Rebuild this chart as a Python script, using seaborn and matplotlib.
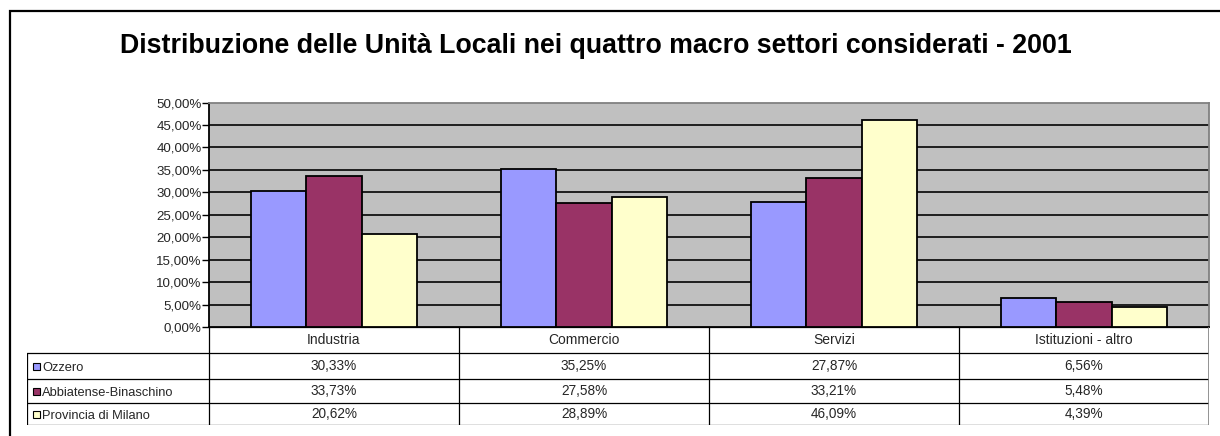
import matplotlib
matplotlib.use("Agg")
import matplotlib.pyplot as plt
from matplotlib.patches import Rectangle
from matplotlib.lines import Line2D
import pandas as pd
import seaborn as sns

# Data
settori = ["Industria", "Commercio", "Servizi", "Istituzioni - altro"]
aree = ["Ozzero", "Abbiatense-Binaschino", "Provincia di Milano"]
ozzero = [30.33, 35.25, 27.87, 6.56]
abbiatense = [33.73, 27.58, 33.21, 5.48]
provincia = [20.62, 28.89, 46.09, 4.39]
colori = ["#9999FF", "#993366", "#FFFFCC"]
y_ticks = [0, 5, 10, 15, 20, 25, 30, 35, 40, 45, 50]
titolo = "Distribuzione delle Unità Locali nei quattro macro settori considerati - 2001"

serie = [ozzero, abbiatense, provincia]
df = pd.DataFrame(
    [(s, a, v) for a, vals in zip(aree, serie) for s, v in zip(settori, vals)],
    columns=["settore", "area", "valore"],
)

sns.set_style("white")
plt.rcParams["font.family"] = ["Liberation Sans", "DejaVu Sans"]

W, H = 1220, 436
fig = plt.figure(figsize=(W / 100, H / 100), dpi=100)


def fx(px):
    return px / W


def fy(py):
    return 1 - py / H


# outer frame
fig.patches.append(Rectangle((fx(10), fy(460)), fx(1240) - fx(10), fy(11) - fy(460),
                             transform=fig.transFigure, fill=False,
                             edgecolor="black", linewidth=1.6, zorder=0))

fig.text(fx(596), fy(46), titolo, ha="center", va="center",
         fontsize=19.3, fontweight="bold", color="black")

# main axes
L, R, T, B = 209, 1209, 102.6, 327
ax = fig.add_axes([fx(L), fy(B), fx(R) - fx(L), fy(T) - fy(B)])
ax.set_facecolor("#C0C0C0")
sns.barplot(data=df, x="settore", y="valore", hue="area", order=settori,
            hue_order=aree, palette=colori, edgecolor="black", linewidth=1.3,
            width=0.667, saturation=1, ax=ax, legend=False, zorder=3)
ax.set_xlim(-0.5, 3.5)
ax.set_ylim(0, 50)
ax.set_yticks(y_ticks)
ax.set_yticklabels([f"{t:.2f}".replace(".", ",") + "%" for t in y_ticks],
                   fontsize=9.6)
ax.set_xticks([])
ax.set_xlabel("")
ax.set_ylabel("")
for t in y_ticks[1:-1]:
    ax.axhline(t, color="#111111", linewidth=1.3, zorder=1)
ax.tick_params(axis="y", length=5, width=1, color="black", pad=0.3, left=True)
ax.spines["left"].set_color("black")
ax.spines["bottom"].set_color("black")
ax.spines["top"].set_color("#808080")
ax.spines["right"].set_color("#808080")
for sp in ax.spines.values():
    sp.set_linewidth(1.3)

# data table below the plot
TL, TB = 27, 425
tax = fig.add_axes([fx(TL), fy(TB), fx(R) - fx(TL), fy(B) - fy(TB)])
x_left = -0.5 - (L - TL) / 250.0
tax.set_xlim(x_left, 3.5)
tax.set_ylim(TB - B, 0)
tax.axis("off")
row_y = [0, 26, 52, 76, 98]
lc = "black"
lw = 0.9
# horizontal lines
tax.add_line(Line2D([-0.5, 3.5], [row_y[0]] * 2, color=lc, lw=lw))
for yv in row_y[1:]:
    tax.add_line(Line2D([x_left, 3.5], [yv] * 2, color=lc, lw=lw))
# vertical lines
for xv in [-0.5, 0.5, 1.5, 2.5]:
    tax.add_line(Line2D([xv, xv], [0, 98], color=lc, lw=lw))
tax.add_line(Line2D([3.5, 3.5], [0, 98], color="#808080", lw=1.2))
tax.add_line(Line2D([x_left, x_left], [26, 98], color=lc, lw=lw))

for i, s in enumerate(settori):
    tax.text(i, 13, s, ha="center", va="center", fontsize=10)
for r, (a, vals, c) in enumerate(zip(aree, serie, colori)):
    yc = (row_y[r + 1] + row_y[r + 2]) / 2
    tax.add_patch(Rectangle((x_left + 6 / 250, yc - 3.5), 7 / 250, 7,
                            facecolor=c, edgecolor="black", lw=0.8))
    tax.text(x_left + 15 / 250, yc + 1.5, a, ha="left", va="center", fontsize=9.3)
    for i, v in enumerate(vals):
        tax.text(i, yc, f"{v:.2f}".replace(".", ",") + "%",
                 ha="center", va="center", fontsize=9.8)

fig.savefig("out.png", dpi=100)
